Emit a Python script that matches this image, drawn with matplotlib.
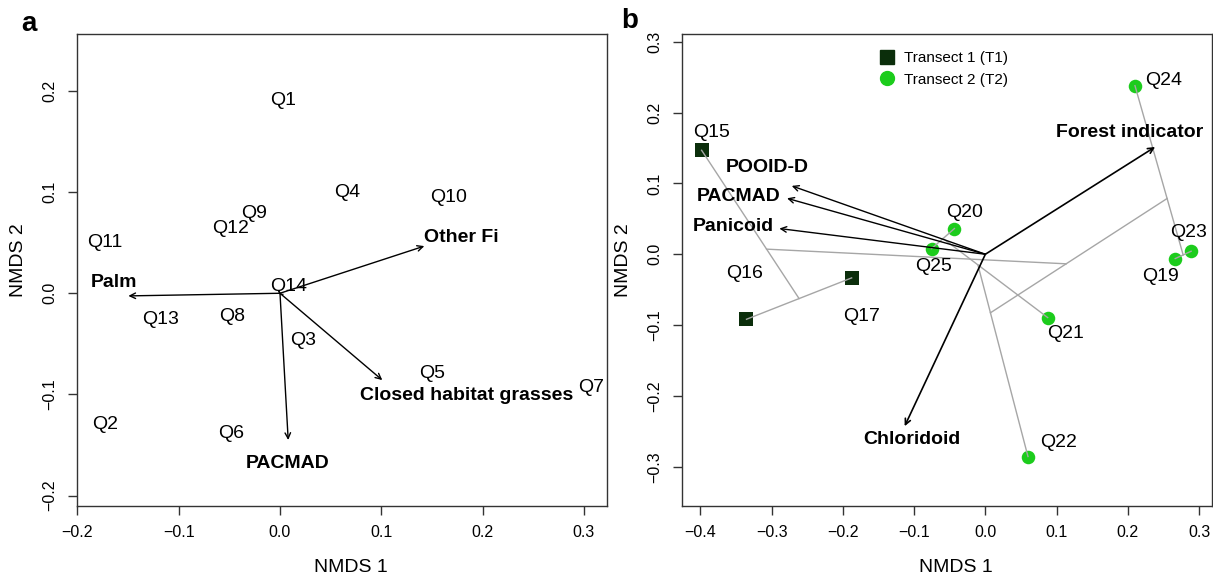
import matplotlib
matplotlib.use("Agg")
import matplotlib.pyplot as plt
from matplotlib.lines import Line2D
import numpy as np

plt.rcParams["font.family"] = ["Liberation Sans", "DejaVu Sans"]

# panel a: site scores (labels drawn at the sites)
sites_a = ["Q1", "Q2", "Q3", "Q4", "Q5", "Q6", "Q7", "Q8", "Q9", "Q10", "Q11", "Q12", "Q13", "Q14"]
x_a = [0.0035, -0.173, 0.0228, 0.066, 0.150, -0.048, 0.307, -0.0475, -0.0255, 0.1668, -0.173, -0.049, -0.118, 0.0081]
y_a = [0.190, -0.130, -0.047, 0.0994, -0.0795, -0.139, -0.0934, -0.0228, 0.0786, 0.0945, 0.050, 0.064, -0.026, 0.0066]

# panel a: fitted vectors
vec_a = ["Palm", "Other Fi", "PACMAD", "Closed habitat grasses"]
vec_a_x = [-0.1497, 0.1425, 0.0081, 0.101]
vec_a_y = [-0.0026, 0.0466, -0.145, -0.0858]
vec_a_lx = [-0.164, 0.179, 0.008, 0.184]
vec_a_ly = [0.011, 0.0555, -0.168, -0.1013]

# panel b: site scores
sites_b = ["Q15", "Q16", "Q17", "Q19", "Q20", "Q21", "Q22", "Q23", "Q24", "Q25"]
transect_b = [1, 1, 1, 2, 2, 2, 2, 2, 2, 2]
x_b = [-0.3983, -0.3353, -0.1877, 0.2665, -0.0434, 0.0875, 0.0598, 0.2888, 0.210, -0.0754]
y_b = [0.1468, -0.0918, -0.0334, -0.0061, 0.0363, -0.0894, -0.2856, 0.0042, 0.238, 0.008]
lab_b_x = [-0.3847, -0.338, -0.174, 0.2454, -0.0292, 0.1125, 0.1026, 0.285, 0.2507, -0.0722]
lab_b_y = [0.1718, -0.0273, -0.0885, -0.031, 0.0593, -0.112, -0.2659, 0.0306, 0.2447, -0.0179]

# cluster merges (ordicluster style): each pair of groups joined between centroids
merges_b = [
    (["Q19"], ["Q23"]),
    (["Q20"], ["Q25"]),
    (["Q16"], ["Q17"]),
    (["Q24"], ["Q19", "Q23"]),
    (["Q15"], ["Q16", "Q17"]),
    (["Q21"], ["Q20", "Q25"]),
    (["Q22"], ["Q20", "Q25", "Q21"]),
    (["Q24", "Q19", "Q23"], ["Q20", "Q25", "Q21", "Q22"]),
    (["Q15", "Q16", "Q17"], ["Q24", "Q19", "Q23", "Q20", "Q25", "Q21", "Q22"]),
]

# panel b: fitted vectors
vec_b = ["Forest indicator", "POOID-D", "PACMAD", "Panicoid", "Chloridoid"]
vec_b_x = [0.2383, -0.2718, -0.2784, -0.2892, -0.1133]
vec_b_y = [0.1515, 0.0965, 0.079, 0.0363, -0.2428]
vec_b_lx = [0.203, -0.3055, -0.3462, -0.3532, -0.1036]
vec_b_ly = [0.1718, 0.1224, 0.0819, 0.0386, -0.2612]
vec_b_lw = [1.2, 1.0, 1.0, 1.0, 1.2]

T1_COL = "#0b2e0b"
T2_COL = "#1ccc1c"
FS = 14


def style_axes(ax, xticks, yticks):
    ax.set_xticks(xticks)
    ax.set_yticks(yticks)
    ax.tick_params(direction="out", length=6.5, width=1, labelsize=11.5, color="#333333")
    ax.tick_params(axis="x", pad=7)
    ax.tick_params(axis="y", pad=8)
    for lbl in ax.get_yticklabels():
        lbl.set_rotation(90)
        lbl.set_va("center")
    for s in ax.spines.values():
        s.set_linewidth(1.0)
        s.set_color("#333333")
    ax.set_xlabel("NMDS 1", fontsize=FS)
    ax.set_ylabel("NMDS 2", fontsize=FS)
    ax.xaxis.set_label_coords(0.517, -0.112)
    ax.yaxis.set_label_coords(-0.095, 0.52)


def draw_arrow(ax, x, y, lw=1.0):
    ax.annotate("", xy=(x, y), xytext=(0, 0),
                arrowprops=dict(arrowstyle="->,head_length=0.45,head_width=0.22",
                                lw=lw, color="black", shrinkA=0, shrinkB=0,
                                mutation_scale=9),
                zorder=4)


fig = plt.figure(figsize=(12.13, 5.77), dpi=100)
ax1 = fig.add_axes([0.0638, 0.123, 0.4366, 0.818])
ax2 = fig.add_axes([0.5625, 0.123, 0.4366, 0.818])

# ---- panel a
ax1.set_xlim(-0.2, 0.3228)
ax1.set_ylim(-0.2102, 0.2561)
for name, x, y in zip(sites_a, x_a, y_a):
    ax1.text(x, y, name, fontsize=FS, ha="center", va="center")
for name, x, y, lx, ly in zip(vec_a, vec_a_x, vec_a_y, vec_a_lx, vec_a_ly):
    draw_arrow(ax1, x, y)
    ax1.text(lx, ly, name, fontsize=FS, fontweight="bold", ha="center", va="center")
style_axes(ax1, np.arange(-0.2, 0.31, 0.1), np.arange(-0.2, 0.21, 0.1))

# ---- panel b
ax2.set_xlim(-0.4254, 0.318)
ax2.set_ylim(-0.3555, 0.3109)
xb = np.array(x_b)
yb = np.array(y_b)
tb = np.array(transect_b)
ax2.scatter(xb[tb == 1], yb[tb == 1], marker="s", s=100, color=T1_COL, zorder=2, linewidths=0)
ax2.scatter(xb[tb == 2], yb[tb == 2], marker="o", s=95, color=T2_COL, zorder=2, linewidths=0)

idx = {n: i for i, n in enumerate(sites_b)}
for ga, gb in merges_b:
    ca = (xb[[idx[n] for n in ga]].mean(), yb[[idx[n] for n in ga]].mean())
    cb = (xb[[idx[n] for n in gb]].mean(), yb[[idx[n] for n in gb]].mean())
    ax2.plot([ca[0], cb[0]], [ca[1], cb[1]], color="#a6a6a6", lw=1.0, zorder=3)

for name, lx, ly in zip(sites_b, lab_b_x, lab_b_y):
    ax2.text(lx, ly, name, fontsize=FS, ha="center", va="center")

for name, x, y, lx, ly, lw in zip(vec_b, vec_b_x, vec_b_y, vec_b_lx, vec_b_ly, vec_b_lw):
    draw_arrow(ax2, x, y, lw)
    ax2.text(lx, ly, name, fontsize=FS, fontweight="bold", ha="center", va="center")

handles = [
    Line2D([], [], marker="s", linestyle="none", markersize=10, color=T1_COL),
    Line2D([], [], marker="o", linestyle="none", markersize=10, color=T2_COL),
]
ax2.legend(handles, ["Transect 1 (T1)", "Transect 2 (T2)"], loc="upper left",
           bbox_to_anchor=(0.346, 0.993), frameon=False, fontsize=11,
           handlelength=1.0, handletextpad=0.6, labelspacing=0.5)
style_axes(ax2, np.arange(-0.4, 0.31, 0.1), np.arange(-0.3, 0.31, 0.1))

fig.text(0.0242, 0.958, "a", fontsize=20, fontweight="bold", ha="center", va="center")
fig.text(0.519, 0.963, "b", fontsize=20, fontweight="bold", ha="center", va="center")

fig.savefig("out.png", dpi=100)
